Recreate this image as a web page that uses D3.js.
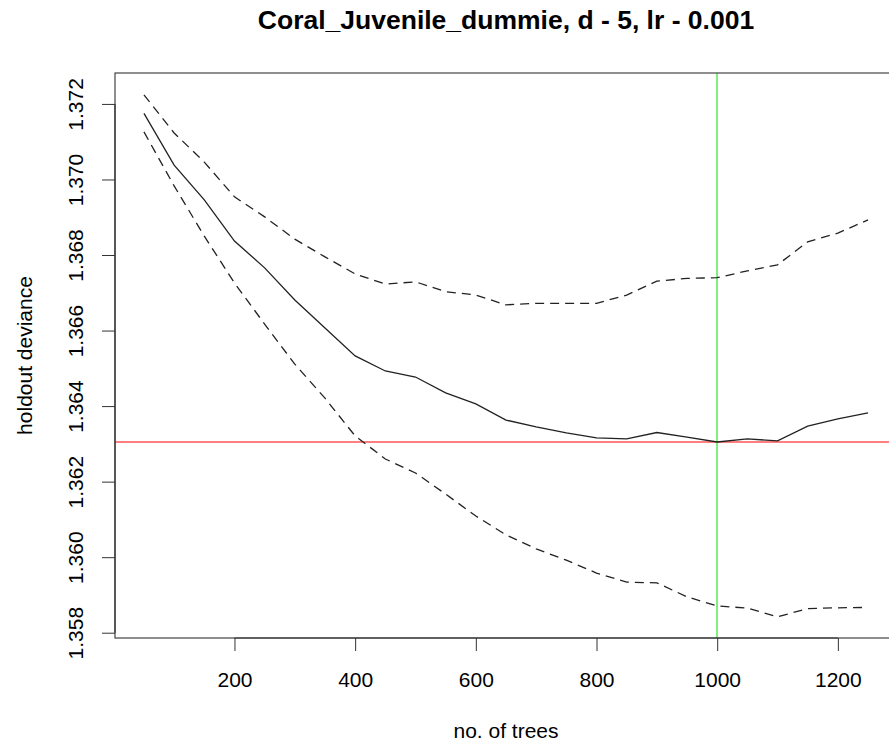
<!DOCTYPE html>
<html>
<head>
<meta charset="utf-8">
<script src="https://cdn.jsdelivr.net/npm/d3@7"></script>
<style>
    body { margin: 0; background: #fff; }
    svg { display: block; font-family: "Liberation Sans", Arial, Helvetica, sans-serif; }
    .tick text { font-size: 21px; fill: #000; }
    .tick line { stroke: #333; }
</style>
</head>
<body>
<div id="chart"></div>
<script>
// number of trees
var trees = [50, 100, 150, 200, 250, 300, 350, 400, 450, 500, 550, 600, 650,
    700, 750, 800, 850, 900, 950, 1000, 1050, 1100, 1150, 1200, 1250];

// mean holdout deviance
var deviance = [1.37175, 1.37038, 1.36946, 1.36837, 1.36766, 1.36681, 1.36607,
    1.36533, 1.36493, 1.36477, 1.36435, 1.36406, 1.36363, 1.36345, 1.36329,
    1.36316, 1.36313, 1.36330, 1.36318, 1.36305, 1.36313, 1.36308, 1.36347,
    1.36366, 1.36382];

// mean + se
var upperBand = [1.37224, 1.37123, 1.37046, 1.36954, 1.36901, 1.36842, 1.36795,
    1.36750, 1.36723, 1.36729, 1.36703, 1.36694, 1.36668, 1.36672, 1.36672,
    1.36672, 1.36694, 1.36731, 1.36738, 1.36740, 1.36758, 1.36774, 1.36835,
    1.36858, 1.36893];

// mean - se
var lowerBand = [1.37126, 1.36983, 1.36850, 1.36726, 1.36617, 1.36511, 1.36421,
    1.36321, 1.36260, 1.36223, 1.36167, 1.36109, 1.36059, 1.36022, 1.35992,
    1.35958, 1.35934, 1.35932, 1.35895, 1.35871, 1.35865, 1.35842, 1.35864,
    1.35866, 1.35867];

var bestTrees = 1000;
var minDeviance = 1.36305;

var xTicks = [200, 400, 600, 800, 1000, 1200];
var yTicks = [1.358, 1.360, 1.362, 1.364, 1.366, 1.368, 1.370, 1.372];

var title = "Coral_Juvenile_dummie, d - 5, lr - 0.001";
var xTitle = "no. of trees";
var yTitle = "holdout deviance";

function drawPlot() {
    "use strict";

    var width = 889;
    var height = 748;
    // plot region (runs past the right edge of the window, as in the picture)
    var left = 115, right = 897, top = 73, bottom = 638;

    var x = d3.scaleLinear().domain([2, 1298]).range([left, right]);
    var y = d3.scaleLinear().domain([1.35786, 1.372819]).range([bottom, top]);

    var svg = d3.select("#chart")
        .append("svg")
        .attr("width", width)
        .attr("height", height);

    // reference lines: best no. of trees and its deviance
    svg.append("line")
        .attr("x1", left).attr("x2", width)
        .attr("y1", Math.round(y(minDeviance))).attr("y2", Math.round(y(minDeviance)))
        .attr("stroke", "#ff0000").attr("stroke-width", 1);
    svg.append("line")
        .attr("x1", Math.round(x(bestTrees))).attr("x2", Math.round(x(bestTrees)))
        .attr("y1", top).attr("y2", bottom)
        .attr("stroke", "#00e000").attr("stroke-width", 1);

    // curves
    var line = d3.line()
        .x(function(d) { return x(d[0]); })
        .y(function(d) { return y(d[1]); });
    [
        {values: upperBand, dash: "9,6"},
        {values: lowerBand, dash: "9,6"},
        {values: deviance, dash: null}
    ].forEach(function(s) {
        svg.append("path")
            .datum(d3.zip(trees, s.values))
            .attr("d", line)
            .attr("fill", "none")
            .attr("stroke", "#222")
            .attr("stroke-width", 1.3)
            .attr("stroke-dasharray", s.dash);
    });

    // box
    svg.append("rect")
        .attr("x", left).attr("y", top)
        .attr("width", right - left).attr("height", bottom - top)
        .attr("fill", "none").attr("stroke", "#444").attr("stroke-width", 1.2);

    // x axis, line only from first to last tick
    var gx = svg.append("g")
        .attr("transform", "translate(0," + bottom + ")")
        .call(d3.axisBottom(x).tickValues(xTicks).tickSize(13).tickFormat(d3.format("d")));
    gx.select(".domain").remove();
    gx.selectAll(".tick text").attr("y", 49).attr("dy", 0);
    gx.append("line")
        .attr("x1", x(xTicks[0])).attr("x2", x(xTicks[xTicks.length - 1]))
        .attr("stroke", "#333").attr("stroke-width", 1.2);

    // y axis, labels parallel to the axis
    var gy = svg.append("g")
        .attr("transform", "translate(" + left + ",0)")
        .call(d3.axisLeft(y).tickValues(yTicks).tickSize(13).tickFormat(d3.format(".3f")));
    gy.select(".domain").remove();
    gy.selectAll(".tick text")
        .attr("x", 0).attr("y", -32).attr("dy", 0)
        .attr("text-anchor", "middle")
        .attr("transform", "rotate(-90)");
    gy.append("line")
        .attr("y1", y(yTicks[0])).attr("y2", y(yTicks[yTicks.length - 1]))
        .attr("stroke", "#333").attr("stroke-width", 1.2);

    // titles
    var mid = (left + right) / 2;
    svg.append("text")
        .attr("x", mid).attr("y", 29)
        .attr("text-anchor", "middle")
        .attr("font-size", 26.5).attr("font-weight", "bold")
        .text(title);
    svg.append("text")
        .attr("x", mid).attr("y", 738)
        .attr("text-anchor", "middle")
        .attr("font-size", 21)
        .text(xTitle);
    svg.append("text")
        .attr("transform", "translate(32," + (top + bottom) / 2 + ") rotate(-90)")
        .attr("text-anchor", "middle")
        .attr("font-size", 21)
        .text(yTitle);
}

drawPlot();
</script>
</body>
</html>
